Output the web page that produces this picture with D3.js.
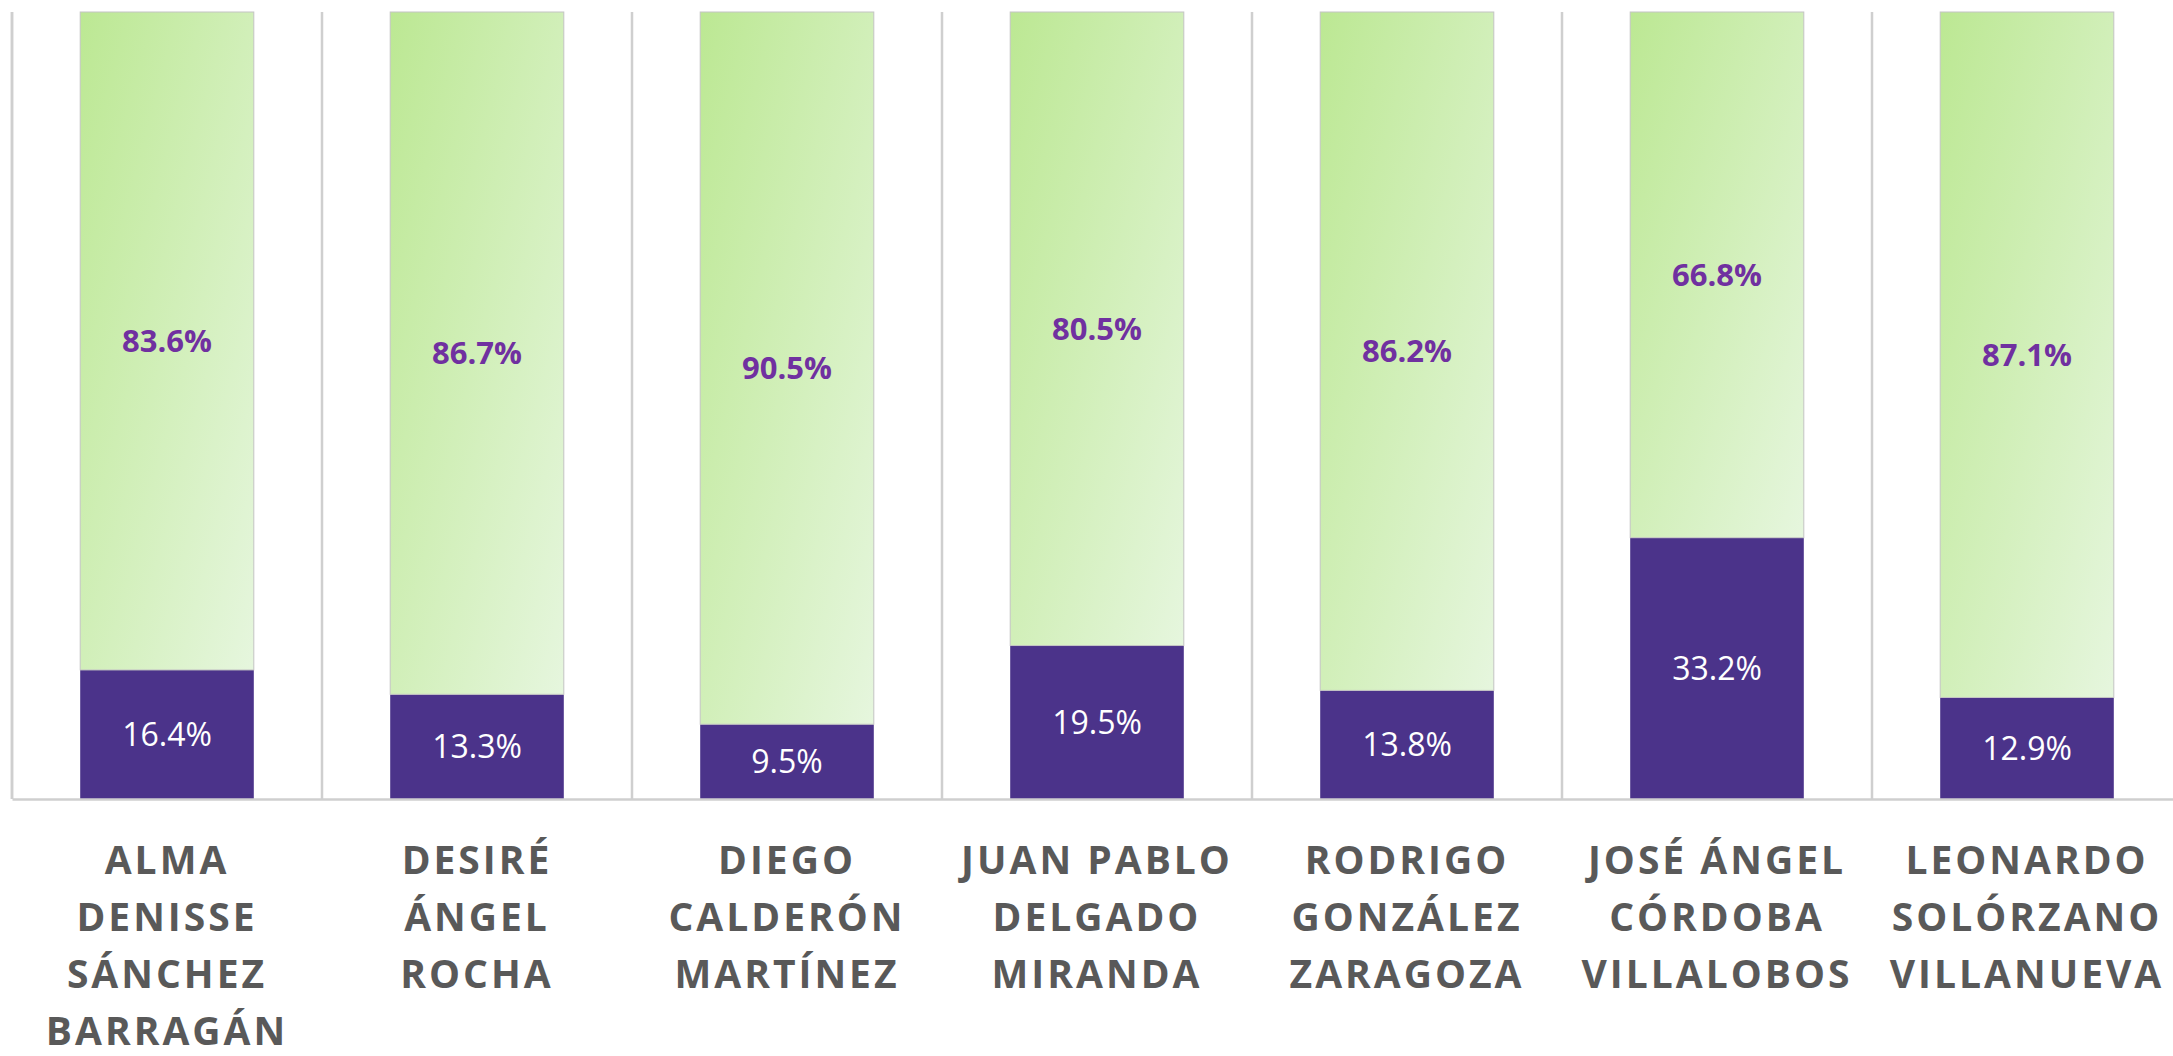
<!DOCTYPE html>
<html>
<head>
<meta charset="utf-8">
<script src="https://cdn.jsdelivr.net/npm/d3@7"></script>
<style>
  body { margin: 0; background: #fff; }
</style>
</head>
<body>
<div id="chart-area"></div>
<script>
'use strict';

// data
let names = [
    'ALMA DENISSE SÁNCHEZ BARRAGÁN',
    'DESIRÉ ÁNGEL ROCHA',
    'DIEGO CALDERÓN MARTÍNEZ',
    'JUAN PABLO DELGADO MIRANDA',
    'RODRIGO GONZÁLEZ ZARAGOZA',
    'JOSÉ ÁNGEL CÓRDOBA VILLALOBOS',
    'LEONARDO SOLÓRZANO VILLANUEVA'
];
let labelLines = [
    ['ALMA', 'DENISSE', 'SÁNCHEZ', 'BARRAGÁN'],
    ['DESIRÉ', 'ÁNGEL', 'ROCHA'],
    ['DIEGO', 'CALDERÓN', 'MARTÍNEZ'],
    ['JUAN PABLO', 'DELGADO', 'MIRANDA'],
    ['RODRIGO', 'GONZÁLEZ', 'ZARAGOZA'],
    ['JOSÉ ÁNGEL', 'CÓRDOBA', 'VILLALOBOS'],
    ['LEONARDO', 'SOLÓRZANO', 'VILLANUEVA']
];
let lowPart = [16.4, 13.3, 9.5, 19.5, 13.8, 33.2, 12.9];
let highPart = [83.6, 86.7, 90.5, 80.5, 86.2, 66.8, 87.1];

let W = 2173, H = 1056;
let margin = { left: 12, top: 12 };
let plotW = 2170, plotH = 787;

let svg = d3.select('#chart-area').append('svg')
    .attr('width', W)
    .attr('height', H);

let defs = svg.append('defs');
let grad = defs.append('linearGradient')
    .attr('id', 'greenGrad')
    .attr('x1', 0).attr('y1', 0)
    .attr('x2', 1).attr('y2', 1);
grad.append('stop').attr('offset', '0%').attr('stop-color', '#bce893');
grad.append('stop').attr('offset', '100%').attr('stop-color', '#e6f6de');

let g = svg.append('g')
    .attr('transform', 'translate(' + margin.left + ',' + margin.top + ')');

let cat = d3.scaleBand()
    .domain(names)
    .range([0, plotW])
    .padding(0);

let x = d3.scaleBand()
    .domain(names)
    .range([0, plotW])
    .paddingInner(0.44)
    .paddingOuter(0.22);

let y = d3.scaleLinear()
    .domain([0, 100])
    .range([plotH, 0]);

// category separators
let edges = names.map((n) => cat(n));
g.selectAll('line.sep')
    .data(edges)
    .enter()
    .append('line')
        .attr('class', 'sep')
        .attr('x1', (d) => d)
        .attr('x2', (d) => d)
        .attr('y1', 0)
        .attr('y2', plotH)
        .attr('stroke', '#cfcfcf')
        .attr('stroke-width', 2.5);

let rows = names.map((n, i) => ({ name: n, low: lowPart[i], high: highPart[i] }));

// lower (purple) segment
g.selectAll('rect.low')
    .data(rows)
    .enter()
    .append('rect')
        .attr('class', 'low')
        .attr('x', (d) => x(d.name))
        .attr('y', (d) => y(d.low))
        .attr('width', x.bandwidth())
        .attr('height', (d) => plotH - y(d.low))
        .attr('fill', '#4b338a');

// upper (green) segment
g.selectAll('rect.high')
    .data(rows)
    .enter()
    .append('rect')
        .attr('class', 'high')
        .attr('x', (d) => x(d.name))
        .attr('y', (d) => y(d.low + d.high))
        .attr('width', x.bandwidth())
        .attr('height', (d) => y(d.low) - y(d.low + d.high))
        .attr('fill', 'url(#greenGrad)')
        .attr('stroke', '#c4c4c4')
        .attr('stroke-width', 1);

let fmt = (v) => v.toFixed(1) + '%';

g.selectAll('text.lowLabel')
    .data(rows)
    .enter()
    .append('text')
        .attr('class', 'lowLabel')
        .attr('x', (d) => x(d.name) + x.bandwidth() / 2)
        .attr('y', (d) => (y(0) + y(d.low)) / 2)
        .attr('dy', '0.36em')
        .attr('text-anchor', 'middle')
        .attr('font-family', 'Open Sans, sans-serif')
        .attr('font-size', '32px')
        .attr('fill', '#ffffff')
        .text((d) => fmt(d.low));

g.selectAll('text.highLabel')
    .data(rows)
    .enter()
    .append('text')
        .attr('class', 'highLabel')
        .attr('x', (d) => x(d.name) + x.bandwidth() / 2)
        .attr('y', (d) => (y(d.low) + y(d.low + d.high)) / 2)
        .attr('dy', '0.36em')
        .attr('text-anchor', 'middle')
        .attr('font-family', 'Open Sans, sans-serif')
        .attr('font-weight', 'bold')
        .attr('font-size', '31px')
        .attr('fill', '#7030a0')
        .text((d) => fmt(d.high));

// left axis line
g.append('line')
    .attr('x1', 0).attr('x2', 0)
    .attr('y1', 0).attr('y2', plotH)
    .attr('stroke', '#cfcfcf')
    .attr('stroke-width', 2.5);

// bottom axis with wrapped names
let x_axis = d3.axisBottom(cat)
    .tickSize(0)
    .tickSizeOuter(0);

let xa = g.append('g')
    .attr('class', 'x_axis')
    .attr('transform', 'translate(0,' + plotH + ')')
    .call(x_axis);

xa.select('.domain')
    .attr('stroke', '#cfcfcf')
    .attr('stroke-width', 2.5);

xa.selectAll('.tick text').each(function(d, i) {
    let t = d3.select(this);
    t.text(null)
        .attr('y', 0)
        .attr('dy', null)
        .attr('font-family', 'Open Sans, sans-serif')
        .attr('font-weight', 'bold')
        .attr('font-size', '39px')
        .attr('letter-spacing', '3px')
        .attr('fill', '#595959');
    labelLines[i].forEach((line, k) => {
        t.append('tspan')
            .attr('x', 0)
            .attr('y', 75 + k * 57)
            .text(line);
    });
});
</script>
</body>
</html>
